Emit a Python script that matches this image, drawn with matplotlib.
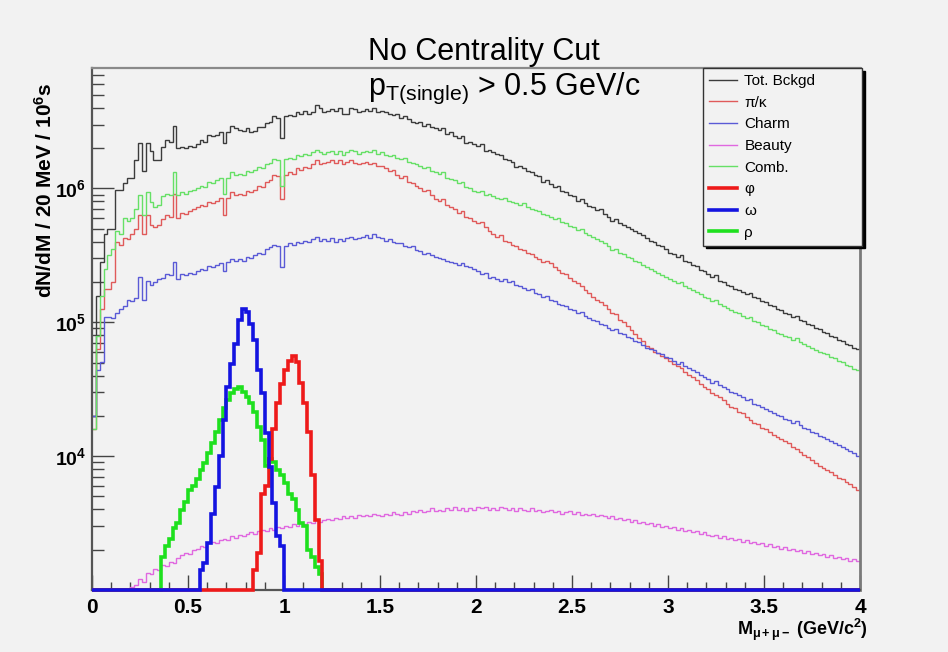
#Imports packages and dependencies
import numpy as np
import matplotlib
matplotlib.use('Agg')
import matplotlib.pyplot as plt
from matplotlib.lines import Line2D
from matplotlib.ticker import FixedLocator, FuncFormatter, NullFormatter

#Histogram binning: 20 MeV bins from 0 to 4 GeV/c^2
m_min, m_max, n_bins = 0.0, 4.0, 200
y_floor, y_top = 1.0e3, 10 ** 6.9

#log10(dN/dM) per bin (None = empty bin)
tot_log = [
    4.30, 5.20, 5.45, 5.66, 5.70, 5.70, 5.99, 5.99, 6.04, 6.08,
    6.08, 6.21, 6.34, 6.13, 6.34, 6.28, 6.21, 6.21, 6.31, 6.36,
    6.35, 6.47, 6.30, 6.31, 6.30, 6.32, 6.31, 6.33, 6.36, 6.35,
    6.40, 6.39, 6.40, 6.42, 6.34, 6.42, 6.47, 6.45, 6.44, 6.43,
    6.45, 6.42, 6.43, 6.46, 6.46, 6.49, 6.50, 6.54, 6.53, 6.38,
    6.54, 6.55, 6.54, 6.57, 6.56, 6.58, 6.56, 6.57, 6.62, 6.60,
    6.57, 6.58, 6.59, 6.58, 6.60, 6.56, 6.56, 6.60, 6.59, 6.57,
    6.58, 6.59, 6.58, 6.60, 6.57, 6.58, 6.57, 6.56, 6.55, 6.56,
    6.53, 6.54, 6.52, 6.50, 6.49, 6.50, 6.47, 6.48, 6.46, 6.45,
    6.44, 6.45, 6.41, 6.42, 6.39, 6.38, 6.39, 6.34, 6.35, 6.33,
    6.32, 6.33, 6.28, 6.29, 6.27, 6.26, 6.25, 6.22, 6.21, 6.20,
    6.16, 6.17, 6.15, 6.13, 6.12, 6.10, 6.09, 6.05, 6.06, 6.03,
    6.01, 6.02, 5.98, 5.97, 5.95, 5.94, 5.91, 5.92, 5.89, 5.87,
    5.86, 5.84, 5.85, 5.81, 5.79, 5.76, 5.77, 5.74, 5.73, 5.71,
    5.70, 5.68, 5.67, 5.65, 5.63, 5.61, 5.60, 5.58, 5.57, 5.55,
    5.52, 5.51, 5.49, 5.50, 5.46, 5.45, 5.43, 5.42, 5.39, 5.38,
    5.36, 5.34, 5.35, 5.31, 5.30, 5.28, 5.27, 5.25, 5.24, 5.23,
    5.21, 5.22, 5.19, 5.18, 5.16, 5.15, 5.13, 5.12, 5.10, 5.09,
    5.07, 5.06, 5.04, 5.05, 5.02, 5.01, 4.99, 4.98, 4.96, 4.95,
    4.93, 4.92, 4.90, 4.89, 4.87, 4.86, 4.84, 4.83, 4.81, 4.80,
]
pik_log = [
    4.20, 4.80, 5.10, 5.25, 5.25, 5.30, 5.60, 5.58, 5.63, 5.62,
    5.66, 5.70, 5.80, 5.66, 5.80, 5.73, 5.71, 5.73, 5.77, 5.80,
    5.79, 5.96, 5.78, 5.82, 5.81, 5.83, 5.85, 5.86, 5.88, 5.87,
    5.90, 5.89, 5.91, 5.93, 5.80, 5.93, 5.97, 5.95, 5.96, 5.95,
    5.98, 5.97, 5.99, 6.02, 6.01, 6.05, 6.06, 6.10, 6.09, 5.92,
    6.10, 6.12, 6.11, 6.15, 6.14, 6.16, 6.15, 6.18, 6.21, 6.18,
    6.19, 6.20, 6.21, 6.19, 6.21, 6.18, 6.20, 6.21, 6.19, 6.18,
    6.19, 6.20, 6.18, 6.19, 6.17, 6.17, 6.15, 6.13, 6.14, 6.10,
    6.08, 6.09, 6.05, 6.04, 6.02, 6.00, 5.98, 5.99, 5.95, 5.92,
    5.91, 5.92, 5.88, 5.86, 5.85, 5.82, 5.83, 5.79, 5.78, 5.76,
    5.74, 5.75, 5.71, 5.68, 5.66, 5.64, 5.65, 5.61, 5.60, 5.58,
    5.57, 5.55, 5.54, 5.52, 5.51, 5.49, 5.47, 5.45, 5.46, 5.44,
    5.41, 5.39, 5.37, 5.36, 5.33, 5.31, 5.29, 5.27, 5.24, 5.22,
    5.19, 5.17, 5.15, 5.13, 5.10, 5.07, 5.06, 5.02, 5.00, 4.97,
    4.94, 4.91, 4.88, 4.86, 4.82, 4.81, 4.78, 4.77, 4.75, 4.73,
    4.71, 4.69, 4.67, 4.66, 4.63, 4.61, 4.59, 4.57, 4.54, 4.52,
    4.50, 4.47, 4.46, 4.44, 4.42, 4.39, 4.37, 4.36, 4.33, 4.32,
    4.29, 4.27, 4.25, 4.24, 4.21, 4.20, 4.18, 4.16, 4.14, 4.13,
    4.11, 4.10, 4.07, 4.05, 4.03, 4.01, 3.99, 3.97, 3.95, 3.93,
    3.91, 3.90, 3.88, 3.86, 3.84, 3.83, 3.81, 3.79, 3.77, 3.75,
]
charm_log = [
    4.30, 4.64, 4.70, 5.04, 5.04, 5.03, 5.07, 5.10, 5.12, 5.17,
    5.16, 5.18, 5.34, 5.17, 5.31, 5.28, 5.30, 5.32, 5.33, 5.36,
    5.35, 5.45, 5.32, 5.36, 5.35, 5.37, 5.36, 5.38, 5.40, 5.39,
    5.42, 5.41, 5.43, 5.44, 5.38, 5.45, 5.47, 5.46, 5.47, 5.46,
    5.49, 5.48, 5.50, 5.52, 5.51, 5.55, 5.56, 5.58, 5.57, 5.41,
    5.57, 5.59, 5.58, 5.60, 5.59, 5.61, 5.60, 5.62, 5.64, 5.61,
    5.62, 5.61, 5.63, 5.60, 5.62, 5.61, 5.63, 5.64, 5.62, 5.63,
    5.64, 5.65, 5.63, 5.66, 5.64, 5.63, 5.61, 5.62, 5.60, 5.59,
    5.59, 5.57, 5.56, 5.57, 5.54, 5.53, 5.51, 5.52, 5.50, 5.49,
    5.48, 5.47, 5.46, 5.45, 5.44, 5.43, 5.44, 5.42, 5.41, 5.40,
    5.38, 5.36, 5.37, 5.33, 5.34, 5.32, 5.31, 5.32, 5.30, 5.31,
    5.28, 5.27, 5.26, 5.24, 5.25, 5.22, 5.21, 5.19, 5.20, 5.17,
    5.16, 5.14, 5.13, 5.12, 5.10, 5.09, 5.07, 5.08, 5.05, 5.03,
    5.02, 5.01, 4.99, 4.98, 4.96, 4.94, 4.95, 4.92, 4.91, 4.89,
    4.88, 4.86, 4.85, 4.83, 4.81, 4.80, 4.79, 4.77, 4.76, 4.74,
    4.73, 4.71, 4.69, 4.70, 4.67, 4.66, 4.64, 4.63, 4.61, 4.59,
    4.58, 4.55, 4.56, 4.53, 4.52, 4.50, 4.48, 4.47, 4.46, 4.44,
    4.42, 4.43, 4.39, 4.38, 4.37, 4.35, 4.34, 4.32, 4.31, 4.30,
    4.28, 4.27, 4.25, 4.26, 4.23, 4.21, 4.20, 4.18, 4.17, 4.15,
    4.14, 4.13, 4.11, 4.10, 4.08, 4.07, 4.05, 4.04, 4.02, 4.00,
]
beauty_log = [None] * 10 + [
    3.02, 3.04, 3.08, 3.06, 3.13, 3.12, 3.16, 3.15, 3.19, 3.18,
    3.21, 3.20, 3.24, 3.26, 3.28, 3.27, 3.30, 3.31, 3.33, 3.32,
    3.35, 3.36, 3.35, 3.37, 3.38, 3.37, 3.40, 3.39, 3.41, 3.40,
    3.42, 3.43, 3.42, 3.44, 3.45, 3.44, 3.46, 3.45, 3.47, 3.46,
    3.48, 3.47, 3.49, 3.48, 3.50, 3.49, 3.51, 3.50, 3.52, 3.51,
    3.52, 3.53, 3.52, 3.54, 3.53, 3.55, 3.54, 3.55, 3.54, 3.56,
    3.55, 3.56, 3.55, 3.57, 3.56, 3.55, 3.57, 3.56, 3.58, 3.57,
    3.56, 3.58, 3.57, 3.59, 3.58, 3.60, 3.58, 3.59, 3.61, 3.59,
    3.60, 3.59, 3.61, 3.60, 3.62, 3.60, 3.61, 3.59, 3.61, 3.60,
    3.62, 3.61, 3.62, 3.60, 3.61, 3.60, 3.62, 3.61, 3.60, 3.61,
    3.59, 3.61, 3.60, 3.59, 3.61, 3.59, 3.60, 3.58, 3.59, 3.60,
    3.58, 3.59, 3.57, 3.58, 3.59, 3.57, 3.58, 3.56, 3.57, 3.56,
    3.57, 3.55, 3.56, 3.55, 3.54, 3.55, 3.53, 3.54, 3.52, 3.53,
    3.51, 3.52, 3.50, 3.51, 3.49, 3.50, 3.48, 3.49, 3.47, 3.48,
    3.46, 3.47, 3.45, 3.46, 3.44, 3.45, 3.43, 3.44, 3.42, 3.43,
    3.41, 3.40, 3.41, 3.39, 3.40, 3.38, 3.39, 3.37, 3.38, 3.36,
    3.37, 3.35, 3.36, 3.34, 3.35, 3.33, 3.34, 3.32, 3.33, 3.31,
    3.32, 3.30, 3.31, 3.29, 3.30, 3.28, 3.29, 3.27, 3.28, 3.26,
    3.27, 3.25, 3.26, 3.24, 3.25, 3.23, 3.24, 3.22, 3.23, 3.22,
]
comb_log = [
    4.20, 4.90, 5.20, 5.40, 5.50, 5.55, 5.68, 5.66, 5.78, 5.76,
    5.78, 5.85, 5.95, 5.80, 5.97, 5.90, 5.86, 5.88, 5.94, 5.96,
    5.95, 6.12, 5.95, 5.97, 5.96, 5.98, 5.99, 6.00, 6.02, 6.01,
    6.05, 6.04, 6.06, 6.08, 5.96, 6.08, 6.12, 6.10, 6.11, 6.10,
    6.13, 6.12, 6.14, 6.16, 6.15, 6.18, 6.19, 6.22, 6.21, 6.02,
    6.22, 6.23, 6.22, 6.25, 6.24, 6.26, 6.25, 6.27, 6.29, 6.27,
    6.26, 6.27, 6.28, 6.26, 6.28, 6.25, 6.27, 6.29, 6.28, 6.26,
    6.27, 6.28, 6.27, 6.29, 6.26, 6.27, 6.25, 6.24, 6.25, 6.23,
    6.22, 6.23, 6.20, 6.19, 6.18, 6.17, 6.15, 6.16, 6.13, 6.12,
    6.11, 6.12, 6.08, 6.07, 6.06, 6.04, 6.05, 6.01, 6.00, 5.98,
    5.97, 5.98, 5.95, 5.96, 5.94, 5.93, 5.92, 5.93, 5.91, 5.90,
    5.89, 5.88, 5.89, 5.86, 5.85, 5.84, 5.83, 5.81, 5.80, 5.79,
    5.77, 5.78, 5.75, 5.74, 5.72, 5.71, 5.69, 5.70, 5.67, 5.65,
    5.64, 5.62, 5.61, 5.59, 5.57, 5.54, 5.55, 5.52, 5.51, 5.49,
    5.48, 5.46, 5.45, 5.43, 5.41, 5.40, 5.38, 5.37, 5.35, 5.34,
    5.32, 5.31, 5.29, 5.30, 5.27, 5.26, 5.24, 5.23, 5.21, 5.19,
    5.18, 5.16, 5.17, 5.14, 5.12, 5.11, 5.09, 5.08, 5.07, 5.05,
    5.03, 5.04, 5.01, 5.00, 4.98, 4.97, 4.95, 4.94, 4.92, 4.91,
    4.90, 4.89, 4.87, 4.88, 4.85, 4.84, 4.82, 4.81, 4.79, 4.78,
    4.77, 4.76, 4.74, 4.73, 4.71, 4.70, 4.68, 4.67, 4.65, 4.64,
]
phi_log = [None] * 42 + [
    3.15, 3.28, 3.72, 3.78, 3.98, 4.20, 4.40, 4.54, 4.64, 4.71,
    4.75, 4.70, 4.55, 4.40, 4.18, 3.86, 3.52, 3.22,
] + [None] * 140
omega_log = [None] * 28 + [
    3.15, 3.20, 3.35, 3.57, 3.77, 4.00, 4.27, 4.52, 4.69, 4.84,
    5.02, 5.10, 5.08, 4.99, 4.87, 4.64, 4.47, 4.17, 3.92, 3.65,
    3.40, 3.33,
] + [None] * 150
rho_log = [None] * 18 + [
    3.25, 3.33, 3.38, 3.46, 3.50, 3.60, 3.66, 3.75, 3.78, 3.83,
    3.90, 3.95, 4.02, 4.10, 4.18, 4.27, 4.36, 4.42, 4.47, 4.50,
    4.52, 4.48, 4.44, 4.40, 4.33, 4.22, 4.12, 3.93, 3.98, 3.96,
    3.90, 3.86, 3.80, 3.72, 3.68, 3.60, 3.50, 3.48, 3.30, 3.25,
    3.17, 3.12,
] + [None] * 140

#Legend labels, colors and line widths (same order as drawn)
labels = ['Tot. Bckgd', 'π/κ', 'Charm', 'Beauty', 'Comb.', 'φ', 'ω', 'ρ']
series = [tot_log, pik_log, charm_log, beauty_log, comb_log, phi_log, omega_log, rho_log]
colors = ['#3c3c3c', '#e05a5a', '#5a5ad6', '#e068e0', '#66e066', '#ee1a1a', '#1414e0', '#1ee01e']
widths = [1.0, 1.0, 1.0, 1.0, 1.0, 2.6, 2.6, 2.6]
draw_order = [0, 1, 2, 3, 4, 7, 5, 6]

bg = '#f2f2f2'

#Fonts (ROOT-like Helvetica)
plt.rcParams['font.family'] = ['Liberation Sans', 'DejaVu Sans']
plt.rcParams['mathtext.fontset'] = 'custom'
plt.rcParams['mathtext.rm'] = 'Liberation Sans'
plt.rcParams['mathtext.it'] = 'Liberation Sans:italic'
plt.rcParams['mathtext.bf'] = 'Liberation Sans:bold'

#Converts log10 list to counts, empty bins sit on the axis floor
def to_counts(log_vals):
    c = np.array([10.0 ** v if v is not None else 0.0 for v in log_vals])
    return np.where(c > 0, c, y_floor)

edges = np.linspace(m_min, m_max, n_bins + 1)

fig = plt.figure(figsize=(9.48, 6.52), dpi=100, facecolor=bg)
ax = fig.add_axes([92 / 948, 1 - 590 / 652, (860 - 92) / 948, (590 - 68) / 652])
ax.set_facecolor(bg)
ax.set_yscale('log')

for i in draw_order:
    ax.stairs(to_counts(series[i]), edges, baseline=None, color=colors[i],
              linewidth=widths[i], clip_on=False, zorder=2 + (i >= 5))

ax.set_xlim(m_min, m_max)
ax.set_ylim(y_floor, y_top)

#Axis ticks, ROOT style (inside, left and bottom only)
ax.xaxis.set_major_locator(FixedLocator(np.arange(0, 4.01, 0.5)))
ax.xaxis.set_minor_locator(FixedLocator(np.arange(0, 4.01, 0.1)))
ax.xaxis.set_major_formatter(FuncFormatter(lambda v, p: '%g' % v))
ax.yaxis.set_major_locator(FixedLocator([1e4, 1e5, 1e6]))
ax.yaxis.set_minor_locator(FixedLocator([k * 10.0 ** e for e in (3, 4, 5, 6) for k in range(2, 10)]))
ax.yaxis.set_major_formatter(FuncFormatter(lambda v, p: r'$\mathbf{10^{%d}}$' % round(np.log10(v))))
ax.yaxis.set_minor_formatter(NullFormatter())
ax.tick_params(which='both', direction='in', top=False, right=False, color='#444444', width=1.0)
ax.tick_params(axis='y', which='major', length=16, pad=4, labelsize=14)
ax.tick_params(axis='y', which='minor', length=8.5)
ax.tick_params(axis='x', which='major', length=11, pad=6, labelsize=15)
ax.tick_params(axis='x', which='minor', length=5.5)
for lab in ax.get_xticklabels():
    lab.set_fontweight('bold')

for side, col, lw in [('left', '#555555', 1.6), ('bottom', '#555555', 1.6),
                      ('top', '#8a8a8a', 1.6), ('right', '#7a7a7a', 2.0)]:
    ax.spines[side].set_color(col)
    ax.spines[side].set_linewidth(lw)

#Axis titles
fig.text(45 / 948, 1 - 190 / 652, r'dN/dM / 20 MeV / 10$^{\mathbf{6}}$s', rotation=90,
         ha='center', va='center', fontsize=15, fontweight='bold')
fig.text(868 / 948, 1 - 630 / 652, r'M$_{\mathbf{\mu+\mu-}}$ (GeV/c$^{\mathbf{2}}$)',
         ha='right', va='center', fontsize=13, fontweight='bold')

#Cut annotations
fig.text(368 / 948, 1 - 60 / 652, 'No Centrality Cut', ha='left', va='baseline', fontsize=22)
fig.text(368 / 948, 1 - 95 / 652, r'$\mathregular{p_{T(single)}}$ > 0.5 GeV/c',
         ha='left', va='baseline', fontsize=22)

#Legend with black drop shadow
handles = [Line2D([], [], color=colors[i], linewidth=widths[i]) for i in range(len(labels))]
leg = ax.legend(handles, labels, loc='upper right', mode='expand',
                bbox_to_anchor=((703 - 92) / 768, 0.0, 159 / 768, 1.0), borderaxespad=0.0,
                fancybox=False, shadow={'color': 'black', 'alpha': 1.0}, fontsize=11,
                handlelength=1.8, handletextpad=0.5, labelspacing=0.5, borderpad=0.4)
leg.get_frame().set_facecolor(bg)
leg.get_frame().set_edgecolor('#333333')
leg.get_frame().set_linewidth(1.0)

plt.savefig('out.png', dpi=100, facecolor=bg)
